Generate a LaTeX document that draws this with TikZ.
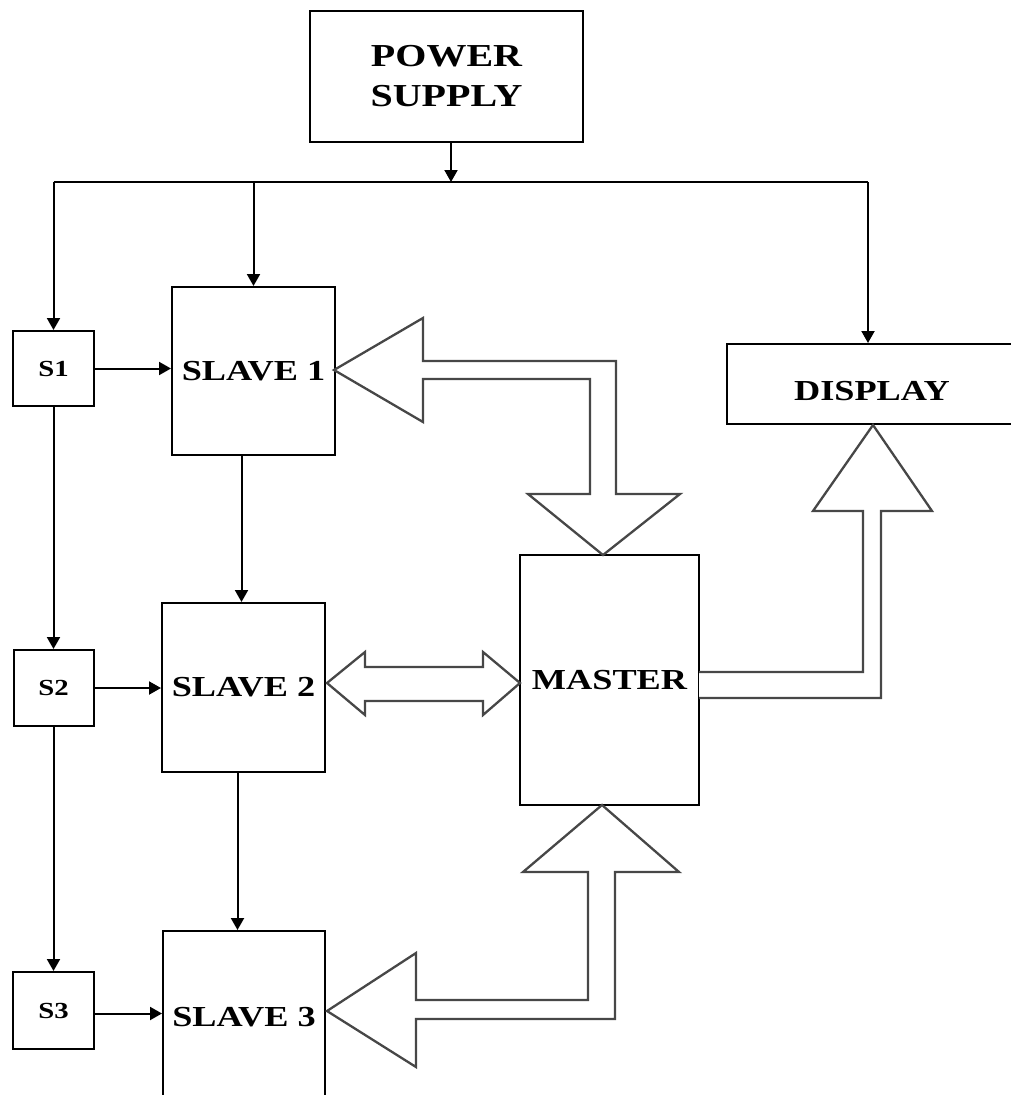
\documentclass[tikz,border=0pt]{standalone}
\usepackage{fontspec}
\setmainfont{Liberation Serif}
\newfontfamily\lblfont[FakeStretch=1.25]{Liberation Serif}
\usetikzlibrary{arrows.meta,calc}
\begin{document}
\begin{tikzpicture}[x=1pt,y=-1pt,
  box/.style={draw=black,line width=2pt,rectangle,inner sep=0pt,align=center,
    font=\lblfont\bfseries\fontsize{29}{40}\selectfont},
  sbox/.style={box,font=\lblfont\bfseries\fontsize{23}{28}\selectfont},
  pbox/.style={box,font=\lblfont\bfseries\fontsize{32}{40}\selectfont},
  conn/.style={line width=2pt,-{Triangle[length=12pt,width=13pt]}},
  bus/.style={line width=2.2pt},
  blockarrow/.style={draw=black!72,line width=2.3pt,line join=miter,fill=white}]
\useasboundingbox (0,0) rectangle (1010,1095);

% nodes
\node[pbox,minimum width=273pt,minimum height=131pt] (ps) at (446.5,76.5) {POWER\\SUPPLY};
\node[sbox,minimum width=81pt,minimum height=75pt] (s1) at (53.5,368.5) {S1};
\node[sbox,minimum width=80pt,minimum height=76pt] (s2) at (53.5,688) {S2};
\node[sbox,minimum width=81pt,minimum height=77pt] (s3) at (53.5,1010.5) {S3};
\node[box,minimum width=163pt,minimum height=168pt] (sl1) at (253.5,371) {SLAVE 1};
\node[box,minimum width=163pt,minimum height=169pt] (sl2) at (243.5,687.5) {SLAVE 2};
\node[box,minimum width=162pt,minimum height=172pt] (sl3) at (244,1017) {SLAVE 3};
\node[box,minimum width=179pt,minimum height=250pt] (master) at (609.5,680) {MASTER};
\node[box,minimum width=290pt,minimum height=80pt,text height=32pt,text depth=0pt] (disp) at (872,384) {DISPLAY};

% power bus
\coordinate (busL) at (53.5,182);
\coordinate (busR) at (868,182);
\coordinate (busP) at (451,182);
\draw[conn] (ps.south -| busP) -- (busP);
\draw[bus] (busL) -- (busR);
\draw[conn] (busL) -- (s1.north);
\draw[conn] (sl1.north |- busL) -- (sl1.north);
\draw[conn] (busR) -- (busR |- disp.north);

% sensor links
\draw[conn] (s1.east) -- (s1.east -| sl1.west);
\draw[conn] (s2.east) -- (s2.east -| sl2.west);
\draw[conn] ($(s3.east)+(0,3)$) -- ($(s3.east -| sl3.west)+(0,3)$);
\draw[conn] (s1.south) -- (s2.north);
\draw[conn] (s2.south) -- (s3.north);

% slave chain
\coordinate (c12) at ($(sl1.south)+(-12,0)$);
\draw[conn] (c12) -- (c12 |- sl2.north);
\coordinate (c23) at ($(sl2.south)+(-6,0)$);
\draw[conn] (c23) -- (c23 |- sl3.north);

% block arrow slave1 <-> master
\draw[blockarrow] (334,370) -- (423,318) -- (423,361) -- (616,361) -- (616,494)
  -- (680,494) -- (603,555) -- (528,494) -- (590,494) -- (590,379)
  -- (423,379) -- (423,422) -- cycle;

% block arrow slave2 <-> master
\draw[blockarrow] (327,683) -- (365,652) -- (365,667) -- (483,667) -- (483,652)
  -- (520,683) -- (483,715) -- (483,701) -- (365,701) -- (365,715) -- cycle;

% block arrow master -> display
\draw[blockarrow] (699,672) -- (863,672) -- (863,511) -- (813,511) -- (873,425)
  -- (932,511) -- (881,511) -- (881,698) -- (699,698);

% block arrow master <-> slave3
\draw[blockarrow] (327,1011) -- (416,953) -- (416,1000) -- (588,1000) -- (588,872)
  -- (523,872) -- (602,805) -- (679,872) -- (615,872) -- (615,1019)
  -- (416,1019) -- (416,1067) -- cycle;
\end{tikzpicture}
\end{document}
